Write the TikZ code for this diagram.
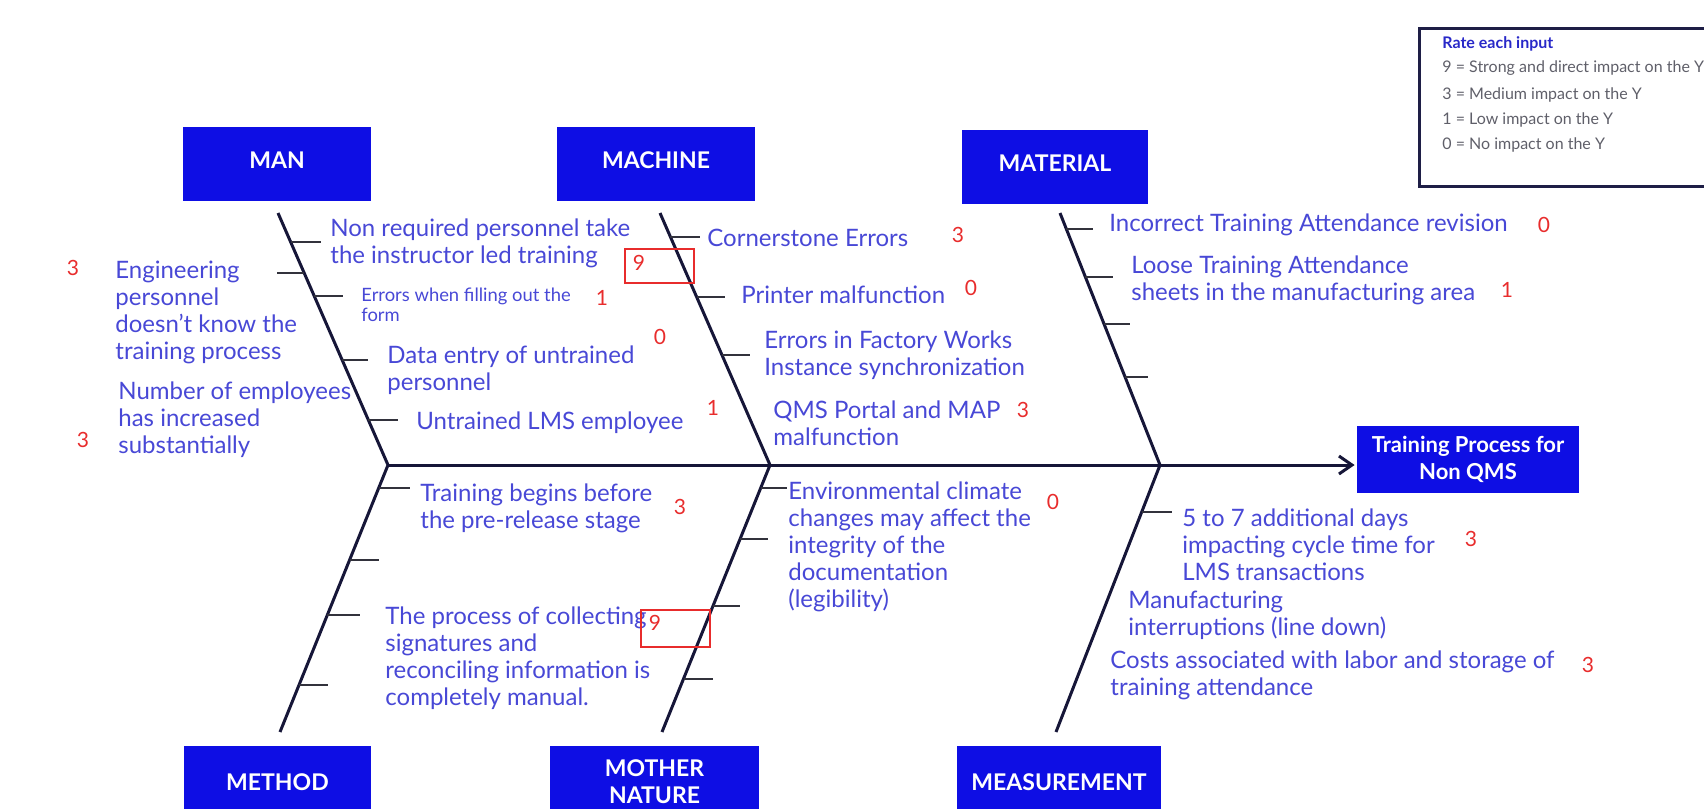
\documentclass[tikz,border=0pt]{standalone}
\usepackage{fontspec}
\setmainfont{Lato}
\usetikzlibrary{arrows.meta}
\definecolor{boxblue}{RGB}{14,14,228}
\definecolor{causeblue}{RGB}{72,72,214}
\definecolor{ratered}{RGB}{232,44,44}
\definecolor{bonecol}{RGB}{22,22,56}
\definecolor{tickcol}{RGB}{50,50,60}
\definecolor{legendgray}{RGB}{95,95,105}
\definecolor{legendframe}{RGB}{30,30,70}
\definecolor{legendblue}{RGB}{40,40,200}
\tikzset{
  catbox/.style={fill=boxblue, inner sep=0pt},
  catlabel/.style={text=white, font=\bfseries\fontsize{11.5}{13.5}\selectfont, align=center, inner sep=0pt},
  effectbox/.style={fill=boxblue, text=white, font=\bfseries\fontsize{11}{13.5}\selectfont, align=center, inner sep=0pt},
  cause/.style={text=causeblue, font=\fontsize{12}{13.5}\selectfont, align=left, anchor=west, inner sep=0pt},
  smallcause/.style={cause, font=\fontsize{9.2}{10}\selectfont},
  rating/.style={text=ratered, font=\fontsize{10.5}{12}\selectfont, inner sep=0pt},
  ratebox/.style={draw=ratered, line width=0.7pt, inner sep=0pt},
  bone/.style={draw=bonecol, line width=1.5pt, line join=miter},
  tickline/.style={draw=tickcol, line width=1pt},
  legendtxt/.style={text=legendgray, font=\fontsize{8}{10}\selectfont, anchor=west, inner sep=0pt},
  legendtitle/.style={text=legendblue, font=\bfseries\fontsize{8}{10}\selectfont, anchor=west, inner sep=0pt},
  legendborder/.style={draw=legendframe, line width=1.5pt}
}
\begin{document}
\begin{tikzpicture}[x=0.5pt,y=-0.5pt]
\useasboundingbox (0,0) rectangle (1704,809);

% ---------- category boxes ----------
\node[catbox, minimum width=94pt, minimum height=37pt,
      label={[catlabel,yshift=2pt]center:MAN}] (man) at (277,164) {};
\node[catbox, minimum width=99pt, minimum height=37pt,
      label={[catlabel,yshift=2pt]center:MACHINE}] (machine) at (656,164) {};
\node[catbox, minimum width=93pt, minimum height=37pt,
      label={[catlabel,yshift=2pt]center:MATERIAL}] (material) at (1055,167) {};
\node[catbox, minimum width=93.5pt, minimum height=31.5pt,
      label={[catlabel,yshift=-2.2pt]center:METHOD}] (method) at (277.5,777.5) {};
\node[catbox, minimum width=104.5pt, minimum height=31.5pt,
      label={[catlabel,yshift=-2.2pt]center:{MOTHER\\NATURE}}] (mother) at (654.5,777.5) {};
\node[catbox, minimum width=102pt, minimum height=31.5pt,
      label={[catlabel,yshift=-2.2pt]center:MEASUREMENT}] (measure) at (1059,777.5) {};

% ---------- effect ----------
\node[effectbox, minimum width=111pt, minimum height=33.5pt] (effect) at (1468,459.5)
  {Training Process for\\Non QMS};

% ---------- bones ----------
\coordinate (j1) at (388,465);
\coordinate (j2) at (770,465);
\coordinate (j3) at (1160,465);
\coordinate (manT) at (278,213);
\coordinate (machT) at (660,213);
\coordinate (matT) at (1060,213);
\coordinate (methB) at (280,732);
\coordinate (mothB) at (662,732);
\coordinate (measB) at (1056,732);

\draw[bone, -{Straight Barb[length=6.5pt,width=9pt]}, shorten >=1pt] (j1) -- (effect.west |- j1);
\draw[bone] (manT) -- (j1) -- (methB);
\draw[bone] (machT) -- (j2) -- (mothB);
\draw[bone] (matT) -- (j3) -- (measB);

% ---------- ticks ----------
\draw[tickline] (291,242) -- (321,242);
\draw[tickline] (277,273) -- (304,273);
\draw[tickline] (314,296) -- (343,296);
\draw[tickline] (342,360) -- (368,360);
\draw[tickline] (368,420) -- (398,420);
\draw[tickline] (670,237) -- (700,237);
\draw[tickline] (697,297) -- (725,297);
\draw[tickline] (722,355) -- (750,355);
\draw[tickline] (1066,229) -- (1093,229);
\draw[tickline] (1085,277) -- (1113,277);
\draw[tickline] (1104,324) -- (1130,324);
\draw[tickline] (1125,377) -- (1148,377);
\draw[tickline] (379,488) -- (410,488);
\draw[tickline] (350,560) -- (379,560);
\draw[tickline] (327,615) -- (360,615);
\draw[tickline] (299,685) -- (328,685);
\draw[tickline] (761,488) -- (787,488);
\draw[tickline] (740,539) -- (768,539);
\draw[tickline] (713,606) -- (740,606);
\draw[tickline] (684,679) -- (713,679);
\draw[tickline] (1142,512) -- (1172,512);

% ---------- causes ----------
\node[cause] (eng) at (115,312.5) {Engineering\\personnel\\doesn’t know the\\training process};
\node[cause] (numemp) at (118,420) {Number of employees\\has increased\\substantially};
\node[cause] (nonreq) at (330,243.5) {Non required personnel take\\the instructor led training};
\node[smallcause] (errfill) at (361,305) {Errors when filling out the\\form};
\node[cause] (dataentry) at (387,370.5) {Data entry of untrained\\personnel};
\node[cause] (untrained) at (416,423) {Untrained LMS employee};

\node[cause] (corner) at (707,238) {Cornerstone Errors};
\node[cause] (printer) at (741,295) {Printer malfunction};
\node[cause] (factory) at (764,355.5) {Errors in Factory Works\\Instance synchronization};
\node[cause] (qms) at (773,423.5) {QMS Portal and MAP\\malfunction};

\node[cause] (incorrect) at (1109,225) {Incorrect Training Attendance revision};
\node[cause] (loose) at (1131,280) {Loose Training Attendance\\sheets in the manufacturing area};

\node[cause] (begins) at (420,508.5) {Training begins before\\the pre-release stage};
\node[cause] (collect) at (385,658) {The process of collecting\\signatures and\\reconciling information is\\completely manual.};

\node[cause] (env) at (788,547) {Environmental climate\\changes may affect the\\integrity of the\\documentation\\(legibility)};

\node[cause] (days) at (1182,545) {5 to 7 additional days\\impacting cycle time for\\LMS transactions};
\node[cause] (manuf) at (1128,615) {Manufacturing\\interruptions (line down)};
\node[cause] (costs) at (1110,675) {Costs associated with labor and storage of\\training attendance};

% ---------- ratings ----------
\node[rating] (r1) at (73,268) {3};
\node[rating] (r2) at (83,440) {3};
\node[ratebox, minimum width=34.5pt, minimum height=17pt] (rb1) at (659.5,266) {};
\node[rating] (r3) at (639,263) {9};
\node[rating] (r4) at (602,298) {1};
\node[rating] (r5) at (660,337) {0};
\node[rating] (r6) at (713,408) {1};
\node[rating] (r7) at (958,235) {3};
\node[rating] (r8) at (971,288) {0};
\node[rating] (r9) at (1023,410) {3};
\node[rating] (r10) at (1544,225) {0};
\node[rating] (r11) at (1507,290) {1};
\node[rating] (r12) at (680,507) {3};
\node[ratebox, minimum width=34.5pt, minimum height=18.5pt] (rb2) at (675.5,628.5) {};
\node[rating] (r13) at (655,623) {9};
\node[rating] (r14) at (1053,502) {0};
\node[rating] (r15) at (1471,539) {3};
\node[rating] (r16) at (1588,665) {3};

% ---------- legend ----------
\coordinate (lgA) at (1704,28);
\coordinate (lgB) at (1419,28);
\coordinate (lgC) at (1419,186);
\coordinate (lgD) at (1704,186);
\draw[legendborder] (lgA) -- (lgB) -- (lgC) -- (lgD);
\node[legendtitle] (lt) at (1442,44) {Rate each input};
\node[legendtxt] (l9) at (1442,68) {9 = Strong and direct impact on the Y};
\node[legendtxt] (l3) at (1442,95) {3 = Medium impact on the Y};
\node[legendtxt] (l1) at (1442,120) {1 = Low impact on the Y};
\node[legendtxt] (l0) at (1442,145) {0 = No impact on the Y};
\end{tikzpicture}
\end{document}
